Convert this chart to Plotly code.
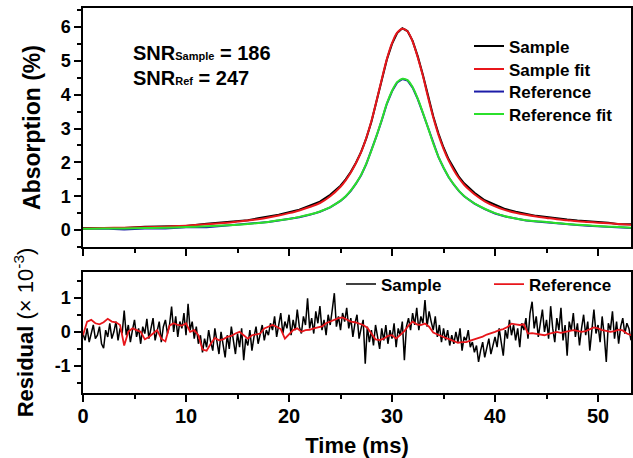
import numpy as np
import plotly.graph_objects as go

# ---------------- data ----------------
time_top = [0, 2, 4, 6, 8, 10, 12, 14, 15, 16, 17, 18, 19, 20, 21, 22, 23, 24, 25, 25.5,
            26, 26.5, 27, 27.5, 28, 28.5, 29, 29.5, 30, 30.5, 31, 31.5, 32, 32.5, 33, 33.5,
            34, 34.5, 35, 35.5, 36, 36.5, 37, 37.5, 38, 39, 40, 41, 42, 43, 44, 45, 46, 47,
            48, 49, 50, 51, 52, 53.2]

sample_fit = [0.05, 0.06, 0.07, 0.08, 0.10, 0.13, 0.17, 0.22, 0.25, 0.28, 0.32, 0.37, 0.43, 0.50,
              0.58, 0.68, 0.80, 1.00, 1.28, 1.47, 1.70, 1.98, 2.30, 2.72, 3.22, 3.82, 4.45, 5.05,
              5.52, 5.83, 5.95, 5.87, 5.57, 5.10, 4.55, 3.92, 3.33, 2.82, 2.40, 2.05, 1.77, 1.53,
              1.34, 1.19, 1.06, 0.85, 0.70, 0.59, 0.51, 0.45, 0.40, 0.36, 0.32, 0.29, 0.26, 0.24,
              0.22, 0.20, 0.18, 0.16]

sample_data = [0.06, 0.07, 0.06, 0.10, 0.12, 0.12, 0.19, 0.23, 0.27, 0.29, 0.35, 0.39, 0.45, 0.53,
               0.60, 0.72, 0.84, 1.04, 1.31, 1.50, 1.72, 1.99, 2.31, 2.71, 3.20, 3.81, 4.44, 5.04,
               5.50, 5.82, 5.96, 5.88, 5.59, 5.13, 4.58, 3.95, 3.36, 2.86, 2.44, 2.09, 1.81, 1.57,
               1.38, 1.23, 1.10, 0.88, 0.74, 0.62, 0.54, 0.48, 0.42, 0.39, 0.34, 0.31, 0.28, 0.26,
               0.22, 0.22, 0.17, 0.17]

ref_fit = [0.04, 0.05, 0.05, 0.06, 0.07, 0.09, 0.11, 0.14, 0.16, 0.18, 0.21, 0.24, 0.29, 0.33,
           0.39, 0.46, 0.55, 0.68, 0.87, 1.00, 1.17, 1.38, 1.63, 1.96, 2.35, 2.79, 3.25, 3.74,
           4.11, 4.37, 4.47, 4.43, 4.22, 3.88, 3.46, 3.02, 2.56, 2.17, 1.85, 1.57, 1.35, 1.16,
           1.01, 0.89, 0.79, 0.63, 0.50, 0.41, 0.34, 0.29, 0.26, 0.24, 0.21, 0.18, 0.16, 0.14,
           0.12, 0.10, 0.09, 0.07]

ref_data = [0.03, 0.05, 0.02, 0.05, 0.05, 0.08, 0.08, 0.13, 0.15, 0.17, 0.20, 0.24, 0.28, 0.32,
            0.38, 0.45, 0.54, 0.67, 0.86, 0.99, 1.16, 1.37, 1.62, 1.95, 2.34, 2.78, 3.24, 3.73,
            4.10, 4.36, 4.46, 4.42, 4.21, 3.87, 3.45, 3.01, 2.55, 2.16, 1.84, 1.56, 1.34, 1.15,
            1.00, 0.88, 0.78, 0.62, 0.49, 0.40, 0.33, 0.28, 0.25, 0.22, 0.20, 0.17, 0.15, 0.13,
            0.11, 0.09, 0.08, 0.06]

# residuals (x 10^-3)
time_res_sample = np.round(np.arange(0, 53.21, 0.2), 1)
res_sample = [
    -0.05, -0.25, 0.10, -0.30, -0.05, 0.20, -0.20, -0.10, 0.15, -0.35,
    -0.48, 0.05, -0.15, 0.25, -0.20, 0.00, 0.30, -0.25, 0.10, -0.05,
    0.62, -0.10, 0.20, -0.30, 0.05, 0.35, -0.15, 0.10, -0.35, 0.15,
    -0.05, 0.38, -0.20, 0.10, 0.40, -0.25, 0.05, 0.30, -0.30, 0.15,
    0.35, -0.05, 0.20, 0.74, 0.00, 0.45, -0.15, 0.30, 0.10, 0.55,
    -0.10, 0.82, 0.05, 0.30, -0.20, 0.15, -0.35, -0.10, -0.60, -0.20,
    -0.45, 0.05, -0.30, -0.55, 0.10, -0.25, -0.65, 0.00, -0.40, -0.75,
    -0.10, -0.50, 0.15, -0.30, -0.65, -0.05, -0.45, 0.10, -0.83, -0.20,
    -0.40, 0.05, -0.55, -0.15, 0.15, -0.35, -0.05, 0.20, -0.25, 0.05,
    -0.10, 0.25, 0.05, 0.45, -0.15, 0.20, 0.55, -0.05, 0.30, 0.10,
    0.50, -0.10, 0.35, 0.05, 0.65, 0.15, -0.05, 0.45, 0.20, 0.98,
    0.10, 0.40, -0.05, 0.60, 0.25, 0.75, 0.05, 0.35, -0.10, 0.50,
    0.20, 0.65, 1.13, 0.15, 0.45, 0.05, 0.55, 0.30, 0.70, 0.10,
    0.40, -0.15, 0.25, 0.50, -0.20, 0.10, 0.35, -0.93, 0.15, -0.30,
    0.05, -0.40, 0.20, -0.15, -0.50, 0.10, -0.25, 0.20, -0.35, 0.05,
    -0.20, 0.25, -0.45, 0.10, -0.10, 0.30, -0.83, 0.15, 0.40, 0.05,
    0.55, 0.20, 0.70, 0.05, 0.45, 0.25, 0.93, 0.15, 0.60, 0.30,
    0.05, 0.45, -0.15, 0.20, -0.30, 0.10, -0.25, 0.05, -0.40, -0.10,
    -0.35, 0.00, -0.30, 0.10, -0.55, -0.15, -0.25, 0.05, -0.45, -0.30,
    -0.60, -0.40, -0.88, -0.55, -0.30, -0.75, -0.50, -0.20, -0.65, -0.35,
    -0.15, -0.45, 0.10, -0.30, -0.70, 0.05, -0.20, 0.35, -0.10, 0.20,
    -0.25, 0.10, -0.45, 0.25, 0.05, 0.40, -0.20, 0.55, 0.88, 0.10,
    0.45, -0.15, 0.30, 0.65, 0.00, 0.35, -0.20, 0.75, 0.10, -0.30,
    0.40, 0.05, 0.70, -0.25, 0.20, -0.70, 0.30, 0.05, 0.55, -0.15,
    0.25, -0.40, 0.10, 0.50, -0.10, 0.30, -0.55, 0.15, 0.65, -0.05,
    0.20, -0.30, 0.45, -0.10, -0.88, 0.25, 0.05, 0.60, -0.20, 0.30,
    -0.35, 0.15, 0.40, -0.05, 0.25, 0.10, -0.25,
]

time_res_ref = np.round(np.arange(0, 53.21, 0.4), 1)
res_ref = [
    -0.10, 0.30, 0.35, 0.25, 0.22, 0.28, 0.38, 0.30, 0.28, 0.20,
    -0.40, 0.00, 0.10, 0.06, 0.00, -0.22, -0.15, -0.05, 0.05, -0.20,
    -0.28, 0.18, 0.25, 0.20, 0.18, 0.25, 0.00, 0.05, -0.10, -0.52,
    -0.55, -0.35, -0.18, -0.25, -0.22, -0.15, -0.12, -0.05, 0.00, -0.10,
    -0.20, -0.10, -0.08, -0.05, 0.10, 0.15, 0.20, 0.15, 0.08, -0.20,
    -0.08, 0.05, 0.10, 0.00, 0.05, 0.06, 0.10, 0.14, 0.16, 0.25,
    0.30, 0.36, 0.40, 0.42, 0.35, 0.30, 0.28, 0.25, 0.20, 0.12,
    -0.05, -0.22, -0.24, -0.20, -0.12, -0.10, -0.20, -0.10, 0.02, 0.18,
    0.30, 0.22, 0.20, 0.24, 0.15, -0.02, -0.08, -0.12, -0.18, -0.22,
    -0.26, -0.32, -0.30, -0.30, -0.26, -0.22, -0.20, -0.14, -0.08, -0.05,
    0.00, 0.05, 0.08, 0.14, 0.24, 0.22, 0.20, 0.22, -0.05, -0.04,
    -0.06, -0.08, -0.10, -0.06, -0.02, 0.00, -0.03, 0.00, 0.02, 0.05,
    0.03, 0.00, 0.02, 0.08, 0.13, 0.10, 0.05, 0.03, 0.00, 0.02,
    0.06, 0.04, -0.05, -0.10,
]

absorption_ticks = [0, 1, 2, 3, 4, 5, 6]
residual_ticks = [-1, 0, 1]
residual_ticktext = ["-1", "0", "1"]
time_ticks = [0, 10, 20, 30, 40, 50]

# ---------------- styling ----------------
FONT = "Liberation Sans, Arial, sans-serif"
BLACK = "#000000"
RED = "#e8161b"
BLUE = "#1c1ca8"
GREEN = "#2be02b"

W, H = 633, 458
ML, MR, MT, MB = 83, 2, 8, 65
PW, PH = W - ML - MR, H - MT - MB


def px_x(px):
    return (px - ML) / PW


def px_y(py):
    return (H - MB - py) / PH


fig = go.Figure()

fig.add_trace(go.Scatter(x=time_top, y=sample_data, mode="lines", name="Sample",
                         line=dict(color=BLACK, width=2),
                         xaxis="x", yaxis="y", legend="legend"))
fig.add_trace(go.Scatter(x=time_top, y=ref_data, mode="lines", name="Reference",
                         line=dict(color=BLUE, width=2),
                         xaxis="x", yaxis="y", legend="legend4"))
fig.add_trace(go.Scatter(x=time_top, y=sample_fit, mode="lines", name="Sample fit",
                         line=dict(color=RED, width=2, shape="spline"),
                         xaxis="x", yaxis="y", legend="legend3"))
fig.add_trace(go.Scatter(x=time_top, y=ref_fit, mode="lines", name="Reference fit",
                         line=dict(color=GREEN, width=2, shape="spline"),
                         xaxis="x", yaxis="y", legend="legend5"))

fig.add_trace(go.Scatter(x=time_res_sample, y=res_sample, mode="lines", name="Sample",
                         line=dict(color=BLACK, width=1.5),
                         xaxis="x2", yaxis="y2", legend="legend2"))
fig.add_trace(go.Scatter(x=time_res_ref, y=res_ref, mode="lines", name="Reference",
                         line=dict(color=RED, width=1.8),
                         xaxis="x2", yaxis="y2", legend="legend2"))

axis_common = dict(showline=True, linecolor=BLACK, linewidth=1.5, mirror=True,
                   showgrid=False, zeroline=False, ticks="outside", ticklen=7,
                   tickwidth=1.5, tickcolor=BLACK)

legend_font = dict(size=17, weight="bold")


def top_legend(py):
    return dict(x=px_x(469), y=px_y(py), xanchor="left", yanchor="middle",
                bgcolor="rgba(0,0,0,0)", borderwidth=0, font=legend_font, itemwidth=30)


fig.update_layout(
    width=W, height=H,
    margin=dict(l=ML, r=MR, t=MT, b=MB, autoexpand=False),
    paper_bgcolor="white", plot_bgcolor="white",
    font=dict(family=FONT, color=BLACK),
    xaxis=dict(domain=[0, 1], anchor="y", range=[0, 53.2], tickmode="array",
               tickvals=time_ticks, showticklabels=False,
               minor=dict(tickvals=[5, 15, 25, 35, 45], ticks="outside", ticklen=4,
                          tickwidth=1.5, tickcolor=BLACK),
               **axis_common),
    yaxis=dict(domain=[px_y(247), 1], anchor="x", range=[-0.5, 6.56], tickmode="array",
               tickvals=absorption_ticks,
               tickfont=dict(size=18, weight="bold"),
               minor=dict(tickvals=[-0.5, 0.5, 1.5, 2.5, 3.5, 4.5, 5.5, 6.5], ticks="outside",
                          ticklen=4, tickwidth=1.5, tickcolor=BLACK),
               title=dict(text="Absorption (%)", font=dict(size=23, weight="bold"), standoff=14),
               **axis_common),
    xaxis2=dict(domain=[0, 1], anchor="y2", range=[0, 53.2], tickmode="array",
                tickvals=time_ticks, tickfont=dict(size=20, weight="bold"),
                ticklabelstandoff=-3,
                minor=dict(tickvals=[5, 15, 25, 35, 45], ticks="outside", ticklen=4,
                           tickwidth=1.5, tickcolor=BLACK),
                title=dict(text="Time (ms)", font=dict(size=22, weight="bold"), standoff=22),
                **axis_common),
    yaxis2=dict(domain=[0, px_y(272)], anchor="x2", range=[-1.79, 1.75], tickmode="array",
                tickvals=residual_ticks, ticktext=residual_ticktext,
                tickfont=dict(size=18, weight="bold"),
                minor=dict(tickvals=[-1.5, -0.5, 0.5, 1.5], ticks="outside", ticklen=4,
                           tickwidth=1.5, tickcolor=BLACK),
                title=dict(text="<b>Residual</b> (× 10<sup>-3</sup>)", font=dict(size=22),
                           standoff=15),
                **axis_common),
    legend=top_legend(46.5),
    legend3=top_legend(69.5),
    legend4=top_legend(92),
    legend5=top_legend(114.5),
    legend2=dict(x=px_x(341), y=px_y(284.5), xanchor="left", yanchor="middle",
                 orientation="h", bgcolor="rgba(0,0,0,0)", borderwidth=0,
                 font=legend_font, entrywidth=103, entrywidthmode="pixels"),
    showlegend=True,
)

fig.add_annotation(xref="paper", yref="paper", x=px_x(131), y=px_y(53),
                   xanchor="left", yanchor="middle", showarrow=False,
                   text="<b>SNR<span style='font-size:11px'>Sample</span> = 186</b>",
                   font=dict(size=20, family=FONT))
fig.add_annotation(xref="paper", yref="paper", x=px_x(131), y=px_y(78),
                   xanchor="left", yanchor="middle", showarrow=False,
                   text="<b>SNR<span style='font-size:11px'>Ref</span> = 247</b>",
                   font=dict(size=20, family=FONT))

fig.write_html("out.html", config={"displayModeBar": False},
               post_script="document.body.style.margin='0px';document.body.style.overflow='hidden';")
